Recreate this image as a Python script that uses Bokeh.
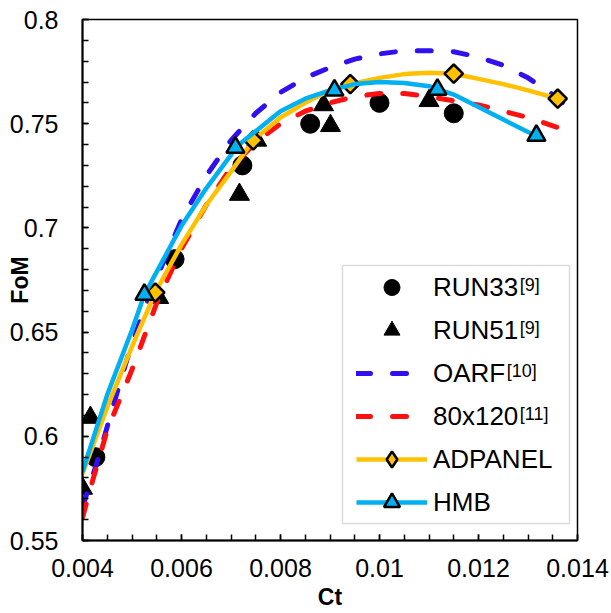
import math
from bokeh.plotting import figure
from bokeh.models import (Legend, LegendItem, Label, BoxAnnotation, FixedTicker, Range1d)
from bokeh.embed import file_html
from bokeh.resources import INLINE

# ---------------- data ----------------
run33_ct = [0.00426, 0.00586, 0.00723, 0.00860, 0.01000, 0.01150]
run33_fom = [0.590, 0.685, 0.730, 0.750, 0.760, 0.755]

run51_ct = [0.00400, 0.00416, 0.00554, 0.00717, 0.00752, 0.00887, 0.00901, 0.01100]
run51_fom = [0.575, 0.609, 0.6665, 0.716, 0.742, 0.759, 0.749, 0.761]

oarf_ct = [0.0040, 0.0043, 0.0046, 0.0049, 0.0052, 0.0055, 0.0060, 0.0065, 0.0070, 0.0075,
           0.0080, 0.0085, 0.0090, 0.0095, 0.0100, 0.0105, 0.0110, 0.0115, 0.0120, 0.0125,
           0.0130, 0.0135, 0.0140]
oarf_fom = [0.566, 0.588, 0.613, 0.637, 0.658, 0.676, 0.704, 0.725, 0.742, 0.755,
            0.765, 0.772, 0.777, 0.781, 0.7835, 0.785, 0.785, 0.7845, 0.782, 0.778,
            0.772, 0.764, 0.754]

w80_ct = [0.0040, 0.00416, 0.0045, 0.0050, 0.0055, 0.0060, 0.0065, 0.0070, 0.0075, 0.0080,
          0.0085, 0.0090, 0.0095, 0.0100, 0.0105, 0.0110, 0.0115, 0.0120, 0.0125, 0.0130,
          0.0135, 0.0140]
w80_fom = [0.561, 0.575, 0.603, 0.632, 0.664, 0.690, 0.711, 0.729, 0.741, 0.750,
           0.756, 0.760, 0.763, 0.7645, 0.7645, 0.763, 0.761, 0.759, 0.756, 0.753,
           0.749, 0.745]

adp_curve_ct = [0.0040, 0.0045, 0.0050, 0.00547, 0.0060, 0.0065, 0.0070, 0.00745, 0.0080,
                0.0085, 0.0090, 0.00941, 0.0100, 0.0105, 0.0110, 0.0115, 0.0120, 0.0125,
                0.0130, 0.0136]
adp_curve_fom = [0.582, 0.614, 0.643, 0.669, 0.692, 0.711, 0.727, 0.742, 0.753,
                 0.760, 0.766, 0.769, 0.772, 0.7738, 0.7745, 0.774, 0.7715, 0.769,
                 0.766, 0.762]
adp_ct = [0.00547, 0.00745, 0.00941, 0.01150, 0.01360]
adp_fom = [0.669, 0.742, 0.769, 0.774, 0.762]

hmb_curve_ct = [0.0040, 0.0045, 0.0050, 0.00525, 0.0060, 0.0065, 0.0070, 0.00709, 0.0080,
                0.0085, 0.0090, 0.0095, 0.0100, 0.0105, 0.0110, 0.0115, 0.0120, 0.0125,
                0.0130, 0.01317]
hmb_curve_fom = [0.583, 0.620, 0.651, 0.668, 0.701, 0.719, 0.735, 0.7386, 0.756,
                 0.762, 0.766, 0.769, 0.770, 0.7695, 0.768, 0.764, 0.758, 0.752,
                 0.746, 0.7443]
hmb_ct = [0.00525, 0.00709, 0.00909, 0.01117, 0.01317]
hmb_fom = [0.668, 0.7386, 0.766, 0.7664, 0.7443]

x_tick_values = [0.004, 0.006, 0.008, 0.010, 0.012, 0.014]
x_tick_labels = ["0.004", "0.006", "0.008", "0.01", "0.012", "0.014"]
y_tick_values = [0.55, 0.60, 0.65, 0.70, 0.75, 0.80]
y_tick_labels = ["0.55", "0.6", "0.65", "0.7", "0.75", "0.8"]

legend_names = ["RUN33", "RUN51", "OARF", "80x120", "ADPANEL", "HMB"]
legend_refs = ["[9]", "[9]", "[10]", "[11]", "", ""]

# ---------------- styles ----------------
FONT = "Liberation Sans"
BLUE = "#3010F0"
RED = "#FF1010"
GOLD = "#FFC000"
CYAN = "#00B0F0"

p = figure(width=611, height=613, output_backend="svg", toolbar_location=None,
           x_range=Range1d(0.004, 0.014), y_range=Range1d(0.55, 0.8),
           min_border_left=82, min_border_right=34, min_border_top=19, min_border_bottom=73)
p.background_fill_color = "white"
p.border_fill_color = "white"
p.outline_line_color = "black"
p.outline_line_width = 1.5
p.xgrid.visible = False
p.ygrid.visible = False

x_minor = [round(0.004 + 0.0005 * i, 5) for i in range(21)]
y_minor = [round(0.55 + 0.01 * i, 3) for i in range(26)]
p.xaxis.ticker = FixedTicker(ticks=x_tick_values, minor_ticks=x_minor)
p.yaxis.ticker = FixedTicker(ticks=y_tick_values, minor_ticks=y_minor)
p.xaxis.major_label_overrides = dict(zip(x_tick_values, x_tick_labels))
p.yaxis.major_label_overrides = dict(zip(y_tick_values, y_tick_labels))

for ax in (p.xaxis[0], p.yaxis[0]):
    ax.axis_line_color = "black"
    ax.axis_line_width = 2
    ax.major_tick_in = 6
    ax.major_tick_out = 0
    ax.minor_tick_in = 6
    ax.minor_tick_out = 0
    ax.major_tick_line_color = "black"
    ax.minor_tick_line_color = "black"
    ax.major_tick_line_width = 1.5
    ax.minor_tick_line_width = 1.5
    ax.major_label_text_font = FONT
    ax.major_label_text_font_size = "25px"
    ax.major_label_text_color = "black"
    ax.axis_label_text_font = FONT
    ax.axis_label_text_font_size = "23px"
    ax.axis_label_text_font_style = "bold"
    ax.axis_label_text_color = "black"
p.xaxis.major_label_standoff = 18
p.yaxis.major_label_standoff = 24
p.xaxis.axis_label = "Ct"
p.yaxis.axis_label = "FoM"
p.xaxis.axis_label_standoff = 4
p.yaxis.axis_label_standoff = -26

# ---------------- glyphs ----------------
r33 = p.scatter(run33_ct, run33_fom, marker="circle", size=19, color="black")
r51 = p.scatter(run51_ct, run51_fom, marker="triangle", size=20, color="black")
roarf = p.line(oarf_ct, oarf_fom, line_color=BLUE, line_width=5, line_dash="14 22",
               line_cap="round")
r80 = p.line(w80_ct, w80_fom, line_color=RED, line_width=5, line_dash="14 22",
             line_cap="round")
radl = p.line(adp_curve_ct, adp_curve_fom, line_color=GOLD, line_width=4.5)
# diamond-shaped key for the legend (legend markers are drawn unrotated);
# drawn under the rotated squares, which cover it completely
radm_key = p.scatter(adp_ct, adp_fom, marker="diamond", size=12,
                     fill_color=GOLD, line_color="black", line_width=2.5)
radm = p.scatter(adp_ct, adp_fom, marker="square", angle=math.pi / 4, size=13,
                 fill_color=GOLD, line_color="black", line_width=2.5)
rhl = p.line(hmb_curve_ct, hmb_curve_fom, line_color=CYAN, line_width=4.5)
rhm = p.scatter(hmb_ct, hmb_fom, marker="triangle", size=18,
                fill_color=CYAN, line_color="black", line_width=2.5)

# ---------------- legend ----------------
renderer_groups = [[r33], [r51], [roarf], [r80], [radl, radm_key], [rhl, rhm]]
items = [LegendItem(label=n, renderers=g) for n, g in zip(legend_names, renderer_groups)]
legend = Legend(items=items, location=(274, 18), glyph_width=71, glyph_height=40,
                label_height=40, label_standoff=6, spacing=3, padding=0, margin=0,
                border_line_alpha=0, background_fill_alpha=0,
                label_text_font=FONT, label_text_font_size="26px", label_text_color="black")
p.add_layout(legend)

p.add_layout(BoxAnnotation(left=260, right=487, bottom=17, top=275,
                           left_units="screen", right_units="screen",
                           bottom_units="screen", top_units="screen",
                           fill_alpha=0, line_color="#8c8c8c", line_width=1.5))

# superscript reference marks after legend labels
adv = {"R": 722, "U": 722, "N": 722, "3": 556, "5": 556, "1": 556, "O": 778, "A": 667,
       "F": 611, "8": 556, "0": 556, "x": 500, "2": 556}
for i, (name, ref) in enumerate(zip(legend_names, legend_refs)):
    if not ref:
        continue
    w = sum(adv.get(c, 600) for c in name) * 26 / 1000.0
    row_c = 287 + 43 * i            # canvas row centre
    sx = (433 - 82) + w + 1
    sy = 540 - (row_c - 3)
    p.add_layout(Label(x=sx, y=sy, x_units="screen", y_units="screen", text=ref,
                       text_font=FONT, text_font_size="18px", text_color="black",
                       text_baseline="alphabetic", text_align="left"))

open("out.html", "w").write(file_html(p, INLINE))
